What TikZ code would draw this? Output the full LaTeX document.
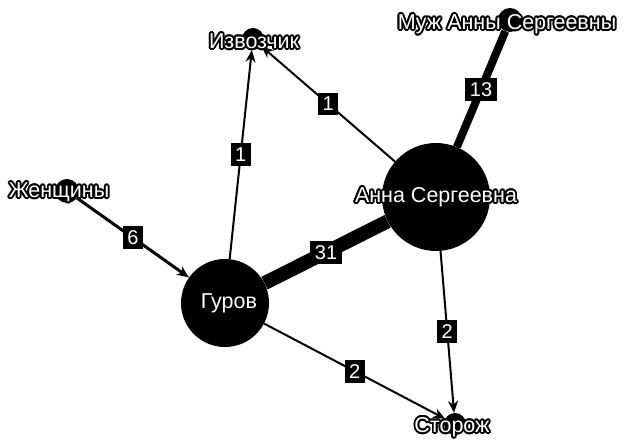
\documentclass[tikz,border=0pt]{standalone}
\usepackage{fontspec}
\setmainfont{Liberation Sans}
\usepackage{contour}
\contourlength{1.8pt}
\contournumber{16}
\usetikzlibrary{arrows.meta}

\begin{document}
\begin{tikzpicture}[
    x=1pt, y=-1pt,
    every node/.style={align=center},
    person/.style={circle, fill=black, inner sep=0pt},
    who/.style={text=white, inner sep=0pt, font=\fontsize{21.5}{23}\selectfont},
    weight/.style={fill=black, text=white, inner sep=4.5pt, font=\fontsize{20}{21}\selectfont},
    link/.style={draw=black, line width=2pt},
    arrow/.style={link, -{Stealth[length=12pt,width=10pt]}}
]
\path[use as bounding box] (0,0) rectangle (627,443);

% Nodes
\node[person, minimum size=24pt] (muzh) at (510,20) {};
\node[person, minimum size=22pt] (izv) at (253,39) {};
\node[person, minimum size=24pt] (zhen) at (67,191) {};
\node[person, minimum size=108pt] (anna) at (436,197) {};
\node[person, minimum size=88pt] (gurov) at (225,303) {};
\node[person, minimum size=22pt] (storozh) at (455,424) {};

% Edges
\draw[link, line width=8pt] (muzh) -- node[weight]{13} (anna);
\draw[link, line width=14pt] (gurov) -- node[weight]{31} (anna);
\draw[arrow] (anna) -- node[weight]{1} (izv);
\draw[arrow] (gurov) -- node[weight]{1} (izv);
\draw[arrow, line width=3pt] (zhen) -- node[weight]{6} (gurov);
\draw[arrow] (gurov) -- node[weight]{2} (storozh);
\draw[arrow] (anna) -- node[weight]{2} (storozh);

% Names
\node[who] at (254,42) {\contour{black}{Извозчик}};
\node[who] at (507,25) {\contour{black}{Муж Анны Сергеевны}};
\node[who] at (59,193) {\contour{black}{Женщины}};
\node[who] at (229,303) {Гуров};
\node[who] at (436,198) {\contour{black}{Анна Сергеевна}};
\node[who] at (452,428) {\contour{black}{Сторож}};

\end{tikzpicture}
\end{document}
